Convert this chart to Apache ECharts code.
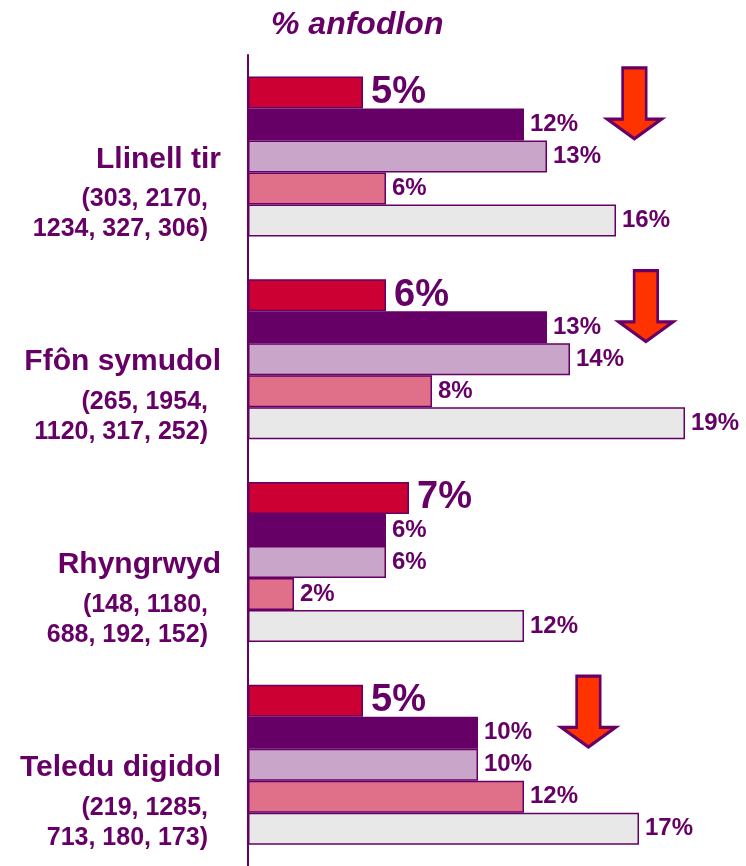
<!DOCTYPE html>
<html>
<head>
<meta charset="utf-8">
<script src="https://cdn.jsdelivr.net/npm/echarts@6/dist/echarts.min.js"></script>
<style>
  html, body { margin: 0; padding: 0; background: #fff; }
  #chart { width: 746px; height: 866px; }
</style>
</head>
<body>
<div id="chart"></div>
<script>
// categories (service) and the base sizes shown under each one
var categories = ['Llinell tir', 'Ffôn symudol', 'Rhyngrwyd', 'Teledu digidol']
var baseSizes = [
  ['(303, 2170,', '1234, 327, 306)'],
  ['(265, 1954,', '1120, 317, 252)'],
  ['(148, 1180,', '688, 192, 152)'],
  ['(219, 1285,', '713, 180, 173)']
]

// % dissatisfied, one array per bar in each group (top to bottom)
var group1 = [5, 6, 7, 5]
var group2 = [12, 13, 6, 10]
var group3 = [13, 14, 6, 10]
var group4 = [6, 8, 2, 12]
var group5 = [16, 19, 12, 17]

// down arrows next to some groups: [x value, category]
var arrows = [[16.8, 'Llinell tir'], [17.3, 'Ffôn symudol'], [14.8, 'Teledu digidol']]

var purple = '#660066'
var font = 'Liberation Sans, Arial, sans-serif'

function barSeries(name, data, color, big) {
  return {
    name: name,
    type: 'bar',
    data: data,
    barWidth: 32,
    barGap: '0%',
    itemStyle: { color: color, borderColor: purple, borderWidth: 1.5 },
    label: {
      show: true,
      position: 'right',
      distance: big ? 8 : 6,
      formatter: '{c}%',
      color: purple,
      fontFamily: font,
      fontWeight: 'bold',
      fontSize: big ? 38 : 24
    }
  }
}

var chart = echarts.init(document.getElementById('chart'))

var series = [
  barSeries('g1', group1, '#CC0033', true),
  barSeries('g2', group2, '#660066', false),
  barSeries('g3', group3, '#C9A5C9', false),
  barSeries('g4', group4, '#E0708A', false),
  barSeries('g5', group5, '#E8E8E8', false)
]

// arrows hung on the first series
series[0].markPoint = {
  symbol: 'path://M15.5 0 H39.5 V52 H55 L27.5 72 L0 52 H15.5 Z',
  symbolSize: [54, 71],
  symbolOffset: [0, 11],
  itemStyle: { color: '#FF3300', borderColor: purple, borderWidth: 3 },
  label: { show: false },
  data: arrows.map(function (a) { return { coord: a } })
}

chart.setOption({
  animation: false,
  title: {
    text: '% anfodlon',
    left: 266,
    top: 4,
    textStyle: {
      color: purple,
      fontFamily: font,
      fontStyle: 'italic',
      fontWeight: 'bold',
      fontSize: 32
    }
  },
  grid: { left: 248, top: 55, width: 460, height: 812 },
  xAxis: {
    type: 'value',
    min: 0,
    max: 20,
    show: false
  },
  yAxis: {
    type: 'category',
    inverse: true,
    data: categories,
    axisLine: { lineStyle: { color: purple, width: 2 } },
    axisTick: { length: 9, lineStyle: { color: purple, width: 2 } },
    axisLabel: {
      margin: 27,
      formatter: function (value, idx) {
        return '{s| }\n{a|' + value + '}\n{b|' + baseSizes[idx][0] + '}\n{b|' + baseSizes[idx][1] + '}'
      },
      rich: {
        s: { lineHeight: 66, fontSize: 10 },
        a: { color: purple, fontFamily: font, fontWeight: 'bold', fontSize: 30, lineHeight: 50 },
        b: { color: purple, fontFamily: font, fontWeight: 'bold', fontSize: 25, lineHeight: 30, padding: [0, 13, 0, 0] }
      }
    }
  },
  series: series
})
</script>
</body>
</html>
